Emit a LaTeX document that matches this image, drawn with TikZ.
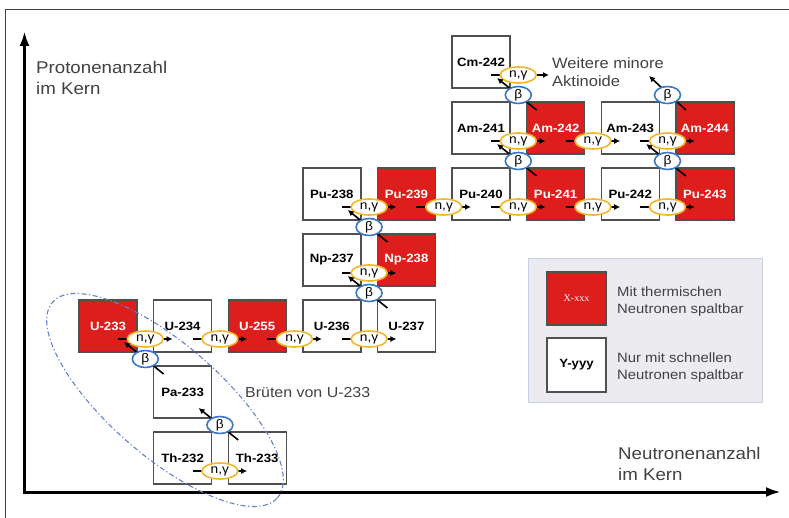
\documentclass[tikz,border=0pt]{standalone}
\usepackage{fontspec}
\setmainfont[FakeStretch=1.1]{Liberation Sans}
\newfontfamily\serifx{Liberation Serif}
\usetikzlibrary{arrows.meta,calc,shapes.geometric}
\definecolor{nred}{RGB}{222,30,28}
\definecolor{bord}{RGB}{80,80,80}
\definecolor{ngcol}{RGB}{244,182,40}
\definecolor{becol}{RGB}{60,118,200}
\definecolor{txtg}{RGB}{65,65,65}
\definecolor{legfill}{RGB}{236,236,240}
\definecolor{legbord}{RGB}{200,208,228}
\definecolor{brcol}{RGB}{100,130,200}
\newcommand{\ngr}[3]{%
  \draw[rarr] ([shift={(-19,13)}]#1.east) -- ([shift={(19,13)}]#2.west);
  \node[ngell] (#3) at ($(#1.east)!0.5!(#2.west)+(0,13)$) {n,γ};}
\newcommand{\bdr}[3]{%
  \draw[rarr] ([shift={(10,8)}]#1.north west) -- ([shift={(-13,-10)}]#2.south east);
  \node[bell] (#3) at ($(#1.north west)!0.5!(#2.south east)$) {β};}
\begin{document}
\begin{tikzpicture}[x=1pt,y=-1pt,
  nuc/.style={draw=bord,line width=1.4pt,minimum width=58pt,minimum height=52pt,inner sep=0pt,outer sep=0pt,font=\fontsize{12}{13}\selectfont\bfseries},
  wnuc/.style={nuc,fill=white,text=black},
  rnuc/.style={nuc,fill=nred,text=white},
  ngell/.style={ellipse,draw=ngcol,line width=1.6pt,fill=white,minimum width=36pt,minimum height=16pt,inner sep=0pt,font=\fontsize{12.5}{13}\selectfont},
  bell/.style={ellipse,draw=becol,line width=1.6pt,fill=white,minimum width=26pt,minimum height=17pt,inner sep=0pt,font=\fontsize{12.5}{13}\selectfont},
  rarr/.style={line width=1.6pt,-{Latex[length=6pt,width=6pt]}},
  axis/.style={line width=3pt,{Latex[length=15pt,width=10pt]}-{Latex[length=15pt,width=10pt]}},
  axlab/.style={align=left,inner sep=0pt,text=txtg,font=\fontsize{17}{21}\selectfont},
  weit/.style={align=left,inner sep=0pt,text=txtg,font=\fontsize{15}{18.5}\selectfont},
  brlab/.style={inner sep=0pt,text=txtg,font=\fontsize{14.5}{17}\selectfont},
  legtxt/.style={align=left,inner sep=0pt,text=txtg,font=\fontsize{13.5}{17}\selectfont},
  legbg/.style={draw=legbord,fill=legfill,line width=1pt,minimum width=234pt,minimum height=143pt,inner sep=0pt},
  brdash/.style={draw=brcol,line width=1.1pt,dash pattern=on 5pt off 2.5pt on 1.2pt off 2.5pt}
]
\useasboundingbox (0,0) rectangle (789,518);
\draw[line width=0.8pt,black!75] (5,518) -- (5,9) -- (789,9);

% axes
\coordinate (orig) at (24.5,492);
\coordinate (ytip) at (24.5,31);
\coordinate (xtip) at (781,492);
\draw[axis] (ytip) -- (orig) -- (xtip);
\node[axlab,anchor=north west] (plab) at (36,61) {Protonenanzahl\\im Kern};
\node[axlab,anchor=north west] (nlab) at (618,447) {Neutronenanzahl\\im Kern};

% legend
\node[legbg] (leg) at (645,330.5) {};
\node[rnuc,minimum width=59pt,minimum height=53pt,font=\serifx\fontsize{10}{12}\selectfont] (legr) at (576.5,298.5) {X-xxx};
\node[wnuc,minimum width=59pt,minimum height=54pt] (legw) at (576.5,365) {Y-yyy};
\node[legtxt,anchor=north west] (legt1) at (617,287) {Mit thermischen\\Neutronen spaltbar};
\node[legtxt,anchor=north west] (legt2) at (617,353) {Nur mit schnellen\\Neutronen spaltbar};

% nuclides
\node[wnuc] (Cm242) at (481,62) {Cm-242};
\node[wnuc] (Am241) at (481,128) {Am-241};
\node[rnuc] (Am242) at (555.6,128) {Am-242};
\node[wnuc] (Am243) at (630.2,128) {Am-243};
\node[rnuc] (Am244) at (704.8,128) {Am-244};
\node[wnuc] (Pu238) at (331.8,194) {Pu-238};
\node[rnuc] (Pu239) at (406.4,194) {Pu-239};
\node[wnuc] (Pu240) at (481,194) {Pu-240};
\node[rnuc] (Pu241) at (555.6,194) {Pu-241};
\node[wnuc] (Pu242) at (630.2,194) {Pu-242};
\node[rnuc] (Pu243) at (704.8,194) {Pu-243};
\node[wnuc] (Np237) at (331.8,260) {Np-237};
\node[rnuc] (Np238) at (406.4,260) {Np-238};
\node[rnuc] (U233) at (108,326) {U-233};
\node[wnuc] (U234) at (182.6,326) {U-234};
\node[rnuc] (U255) at (257.2,326) {U-255};
\node[wnuc] (U236) at (331.8,326) {U-236};
\node[wnuc] (U237) at (406.4,326) {U-237};
\node[wnuc] (Pa233) at (182.6,392) {Pa-233};
\node[wnuc] (Th232) at (182.6,458) {Th-232};
\node[wnuc] (Th233) at (257.2,458) {Th-233};

% text
\node[weit,anchor=north west] (weit) at (552,57) {Weitere minore\\Aktinoide};
\node[brlab,anchor=west] (brt) at (245,393) {Brüten von U-233};
\coordinate (cmout) at (549,75);
\coordinate (amout) at (649,76);

% (n,gamma)
\ngr{U233}{U234}{ng1}
\ngr{U234}{U255}{ng2}
\ngr{U255}{U236}{ng3}
\ngr{U236}{U237}{ng4}
\ngr{Th232}{Th233}{ng5}
\ngr{Np237}{Np238}{ng6}
\ngr{Pu238}{Pu239}{ng7}
\ngr{Pu239}{Pu240}{ng8}
\ngr{Pu240}{Pu241}{ng9}
\ngr{Pu241}{Pu242}{ng10}
\ngr{Pu242}{Pu243}{ng11}
\ngr{Am241}{Am242}{ng12}
\ngr{Am242}{Am243}{ng13}
\ngr{Am243}{Am244}{ng14}
\draw[rarr] ([shift={(-19,13)}]Cm242.east) -- (cmout);
\node[ngell] (ng15) at ([shift={(8.3,13)}]Cm242.east) {n,γ};

% beta
\bdr{Th233}{Pa233}{b1}
\bdr{Pa233}{U233}{b2}
\bdr{U237}{Np237}{b3}
\bdr{Np238}{Pu238}{b4}
\bdr{Pu241}{Am241}{b5}
\bdr{Am242}{Cm242}{b6}
\bdr{Pu243}{Am243}{b7}
\draw[rarr] ([shift={(10,8)}]Am244.north west) -- (amout);
\node[bell] (b8) at ([shift={(-8.3,-7)}]Am244.north west) {β};

% breeding region
\draw[brdash,rotate around={-41:(165,400)}] (165,400) ellipse [x radius=149pt,y radius=56pt];
\end{tikzpicture}
\end{document}
